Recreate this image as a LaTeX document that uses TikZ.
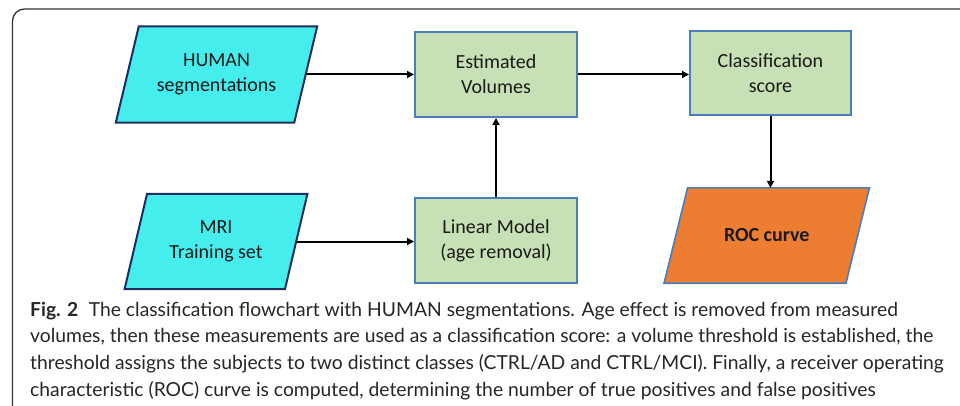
\documentclass[tikz,border=0pt]{standalone}
\usepackage{fontspec}
\setmainfont{Carlito}
\newfontfamily\capfont{Lato}
\usetikzlibrary{arrows.meta,backgrounds}
\definecolor{cyanfill}{HTML}{45EDEC}
\definecolor{navy}{HTML}{1F2D5C}
\definecolor{greenfill}{HTML}{C8E0B5}
\definecolor{boxblue}{HTML}{4A7EBB}
\definecolor{orangefill}{HTML}{ED7D31}
\definecolor{framegray}{HTML}{333333}
\definecolor{txt}{HTML}{1A1A1A}
\newcommand{\parashape}[5]{% name, fill, draw, slant, width
  \draw[fill=#2, draw=#3, line width=#5, line join=miter]
    ([xshift=#4pt]#1.north west) -- ([xshift=#4pt]#1.north east) --
    ([xshift=-#4pt]#1.south east) -- ([xshift=-#4pt]#1.south west) -- cycle;}
\begin{document}
\begin{tikzpicture}[x=1pt,y=-1pt,
  boxtext/.style={font=\fontsize{20}{25}\selectfont, text=txt, align=center},
  box/.style={boxtext, draw=boxblue, line width=2pt, fill=greenfill, minimum width=162pt, minimum height=85pt, inner sep=0pt},
  para/.style={boxtext, inner sep=0pt, shape=rectangle},
  arr/.style={line width=2pt, -{Triangle[length=7pt,width=7pt]}},
  captionline/.style={anchor=base west, inner sep=0pt, font=\capfont\fontsize{19.3}{26.7}\selectfont, text=black!85}]
\useasboundingbox (0,0) rectangle (960,406);
\draw[framegray, line width=1.3pt, rounded corners=12pt] (12.5,420) -- (12.5,9) -- (975,9);

\node[para, minimum width=178pt, minimum height=96pt] (human) at (216.5,74.5) {HUMAN\\segmentations};
\node[para, minimum width=160pt, minimum height=95pt] (mri) at (216,241.5) {MRI\\Training set};
\node[para, minimum width=181.5pt, minimum height=95pt, font=\bfseries\fontsize{20}{25}\selectfont] (roc) at (766.75,235.5) {ROC curve};
\begin{scope}[on background layer]
  \fill[white] (0,0) rectangle (960,406);
  \parashape{human}{cyanfill}{navy}{11.5}{2pt}
  \parashape{mri}{cyanfill}{navy}{11.25}{2pt}
  \parashape{roc}{orangefill}{boxblue}{11.75}{1.6pt}
\end{scope}

\node[box] (est) at (496,74.5) {Estimated\\Volumes};
\node[box, minimum width=161pt, minimum height=84pt] (class) at (770.5,73) {Classification\\score};
\node[box] (lin) at (496,240.5) {Linear Model\\(age removal)};

\draw[arr] (human.east) -- (est.west |- human.east);
\draw[arr] (est.east) -- (class.west |- est.east);
\draw[arr] (mri.east) -- (lin.west |- mri.east);
\draw[arr] (lin.north) -- (est.south);
\draw[arr] (class.south) -- (class.south |- roc.north);

\node[captionline] (c1) at (30,316) {\textbf{Fig. 2}\hspace{0.55em}The classification flowchart with HUMAN segmentations. Age effect is removed from measured};
\node[captionline] (c2) at (30,342.7) {volumes, then these measurements are used as a classification score: a volume threshold is established, the};
\node[captionline] (c3) at (30,369.4) {threshold assigns the subjects to two distinct classes (CTRL/AD and CTRL/MCI). Finally, a receiver operating};
\node[captionline] (c4) at (30,396) {characteristic (ROC) curve is computed, determining the number of true positives and false positives};
\end{tikzpicture}
\end{document}
